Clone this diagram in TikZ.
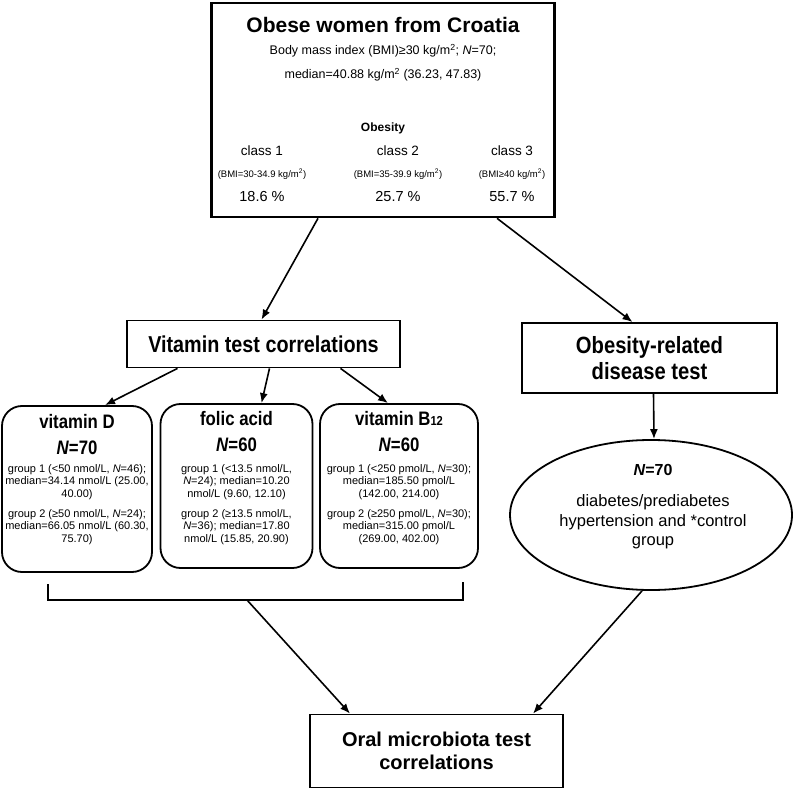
\documentclass[tikz,border=0pt]{standalone}
\usepackage{fontspec}
\setmainfont{Liberation Sans}
\newfontfamily\narrowb[FakeStretch=0.86]{Liberation Sans}
\usetikzlibrary{shapes.geometric,arrows.meta,calc}
\newcommand\fsz[2]{\fontsize{#1}{#2}\selectfont}
\begin{document}
\begin{tikzpicture}[x=1pt,y=-1pt,
  box/.style={draw, line width=1.8pt, inner sep=0pt},
  rbox/.style={box, rounded corners=20pt},
  arr/.style={line width=1.6pt, -{Latex[length=10pt,width=8pt]}},
  txt/.style={inner sep=0pt, align=center},
  ttl/.style={txt, font=\narrowb\bfseries\fsz{19.5}{22}},
  grp/.style={txt, font=\fsz{11}{12.5}},
]
\fill[white] (0,0) rectangle (794,791);
\useasboundingbox (0,0) rectangle (794,791);

% top box
\node[box, line width=2.6pt, minimum width=343pt, minimum height=214pt] (top) at (383,110) {};
\node[txt, font=\bfseries\fsz{21}{24}] (title) at (383,25) {Obese women from Croatia};
\node[txt, font=\fsz{12.5}{14}] (bmi) at (383,51) {Body mass index (BMI)≥30 kg/m\textsuperscript{2}; \textit{N}=70;};
\node[txt, font=\fsz{12.5}{14}] (med) at (383,75) {median=40.88 kg/m\textsuperscript{2} (36.23, 47.83)};
\node[txt, font=\bfseries\fsz{12}{14}] (obesity) at (383,128) {Obesity};
\node[txt, font=\fsz{13.5}{15}] (c1) at (262,151) {class 1};
\node[txt, font=\fsz{13.5}{15}] (c2) at (398,151) {class 2};
\node[txt, font=\fsz{13.5}{15}] (c3) at (512,151) {class 3};
\node[txt, font=\fsz{9.5}{11}] (b1) at (262,174) {(BMI=30-34.9 kg/m\textsuperscript{2})};
\node[txt, font=\fsz{9.5}{11}] (b2) at (398,174) {(BMI=35-39.9 kg/m\textsuperscript{2})};
\node[txt, font=\fsz{9.5}{11}] (b3) at (512,174) {(BMI≥40 kg/m\textsuperscript{2})};
\node[txt, font=\fsz{14.5}{16}] (p1) at (262,197) {18.6 \%};
\node[txt, font=\fsz{14.5}{16}] (p2) at (398,197) {25.7 \%};
\node[txt, font=\fsz{14.5}{16}] (p3) at (512,197) {55.7 \%};

% second level
\node[box, minimum width=273pt, minimum height=47pt, font=\narrowb\bfseries\fsz{23}{26}] (vit) at (263.5,344) {Vitamin test correlations};
\node[box, minimum width=255pt, minimum height=70pt, align=center, font=\narrowb\bfseries\fsz{23.5}{26}] (obes) at (649.5,358) {Obesity-related\\disease test};

% vitamin boxes
\node[rbox, minimum width=150pt, minimum height=166pt] (vitD) at (77,489) {};
\node[rbox, minimum width=152pt, minimum height=164pt] (folic) at (236.5,486) {};
\node[rbox, minimum width=158pt, minimum height=164pt] (b12) at (399,486) {};

\node[ttl] (tD) at (77,422) {vitamin D};
\node[ttl] (nD) at (77,448) {\textit{N}=70};
\node[grp] (gD1) at (77,482) {group 1 (<50 nmol/L, \textit{N}=46);\\median=34.14 nmol/L (25.00,\\40.00)};
\node[grp] (gD2) at (77,527) {group 2 (≥50 nmol/L, \textit{N}=24);\\median=66.05 nmol/L (60.30,\\75.70)};

\node[ttl] (tF) at (236.5,419) {folic acid};
\node[ttl] (nF) at (236.5,445) {\textit{N}=60};
\node[grp] (gF1) at (236.5,482) {group 1 (<13.5 nmol/L,\\\textit{N}=24); median=10.20\\nmol/L (9.60, 12.10)};
\node[grp] (gF2) at (236.5,527) {group 2 (≥13.5 nmol/L,\\\textit{N}=36); median=17.80\\nmol/L (15.85, 20.90)};

\node[ttl] (tB) at (399,419) {vitamin B{\fsz{13}{13}12}};
\node[ttl] (nB) at (399,445) {\textit{N}=60};
\node[grp] (gB1) at (399,482) {group 1 (<250 pmol/L, \textit{N}=30);\\median=185.50 pmol/L\\(142.00, 214.00)};
\node[grp] (gB2) at (399,527) {group 2 (≥250 pmol/L, \textit{N}=30);\\median=315.00 pmol/L\\(269.00, 402.00)};

% ellipse
\node[draw, ellipse, line width=1.8pt, minimum width=282pt, minimum height=150pt, inner sep=0pt] (ell) at (651,515) {};
\node[txt, font=\bfseries\fsz{16}{18}] (nE) at (653,470) {\textit{N}=70};
\node[txt, font=\fsz{16.5}{19.5}] (dE) at (653,522) {diabetes/prediabetes\\hypertension and *control\\group};

% bottom box
\node[box, minimum width=253pt, minimum height=73pt, align=center, font=\bfseries\fsz{20}{23}] (oral) at (436.5,751) {Oral microbiota test\\correlations};

% bracket
\coordinate (bl1) at (48,584);
\coordinate (bl2) at (48,600);
\coordinate (br2) at (463,600);
\coordinate (br1) at (463,582);
\coordinate (brk) at (247,600);
\draw[line width=1.8pt] (bl1) -- (bl2) -- (br2) -- (br1);

% arrows
\draw[arr] ([xshift=-65pt]top.south) -- ([xshift=-2pt]vit.north);
\draw[arr] ([xshift=114pt]top.south) -- ([xshift=-17pt]obes.north);
\draw[arr] ([xshift=-86pt]vit.south) -- ([xshift=28pt]vitD.north);
\draw[arr] ([xshift=6pt]vit.south) -- ([xshift=25pt]folic.north);
\draw[arr] ([xshift=77pt]vit.south) -- ([xshift=-11pt]b12.north);
\draw[arr] ([xshift=4pt]obes.south) -- ([xshift=3pt]ell.north);
\draw[arr] (brk) -- ([xshift=-86.5pt]oral.north);
\draw[arr] ([xshift=-9pt]ell.south) -- ([xshift=96.5pt]oral.north);
\end{tikzpicture}
\end{document}
